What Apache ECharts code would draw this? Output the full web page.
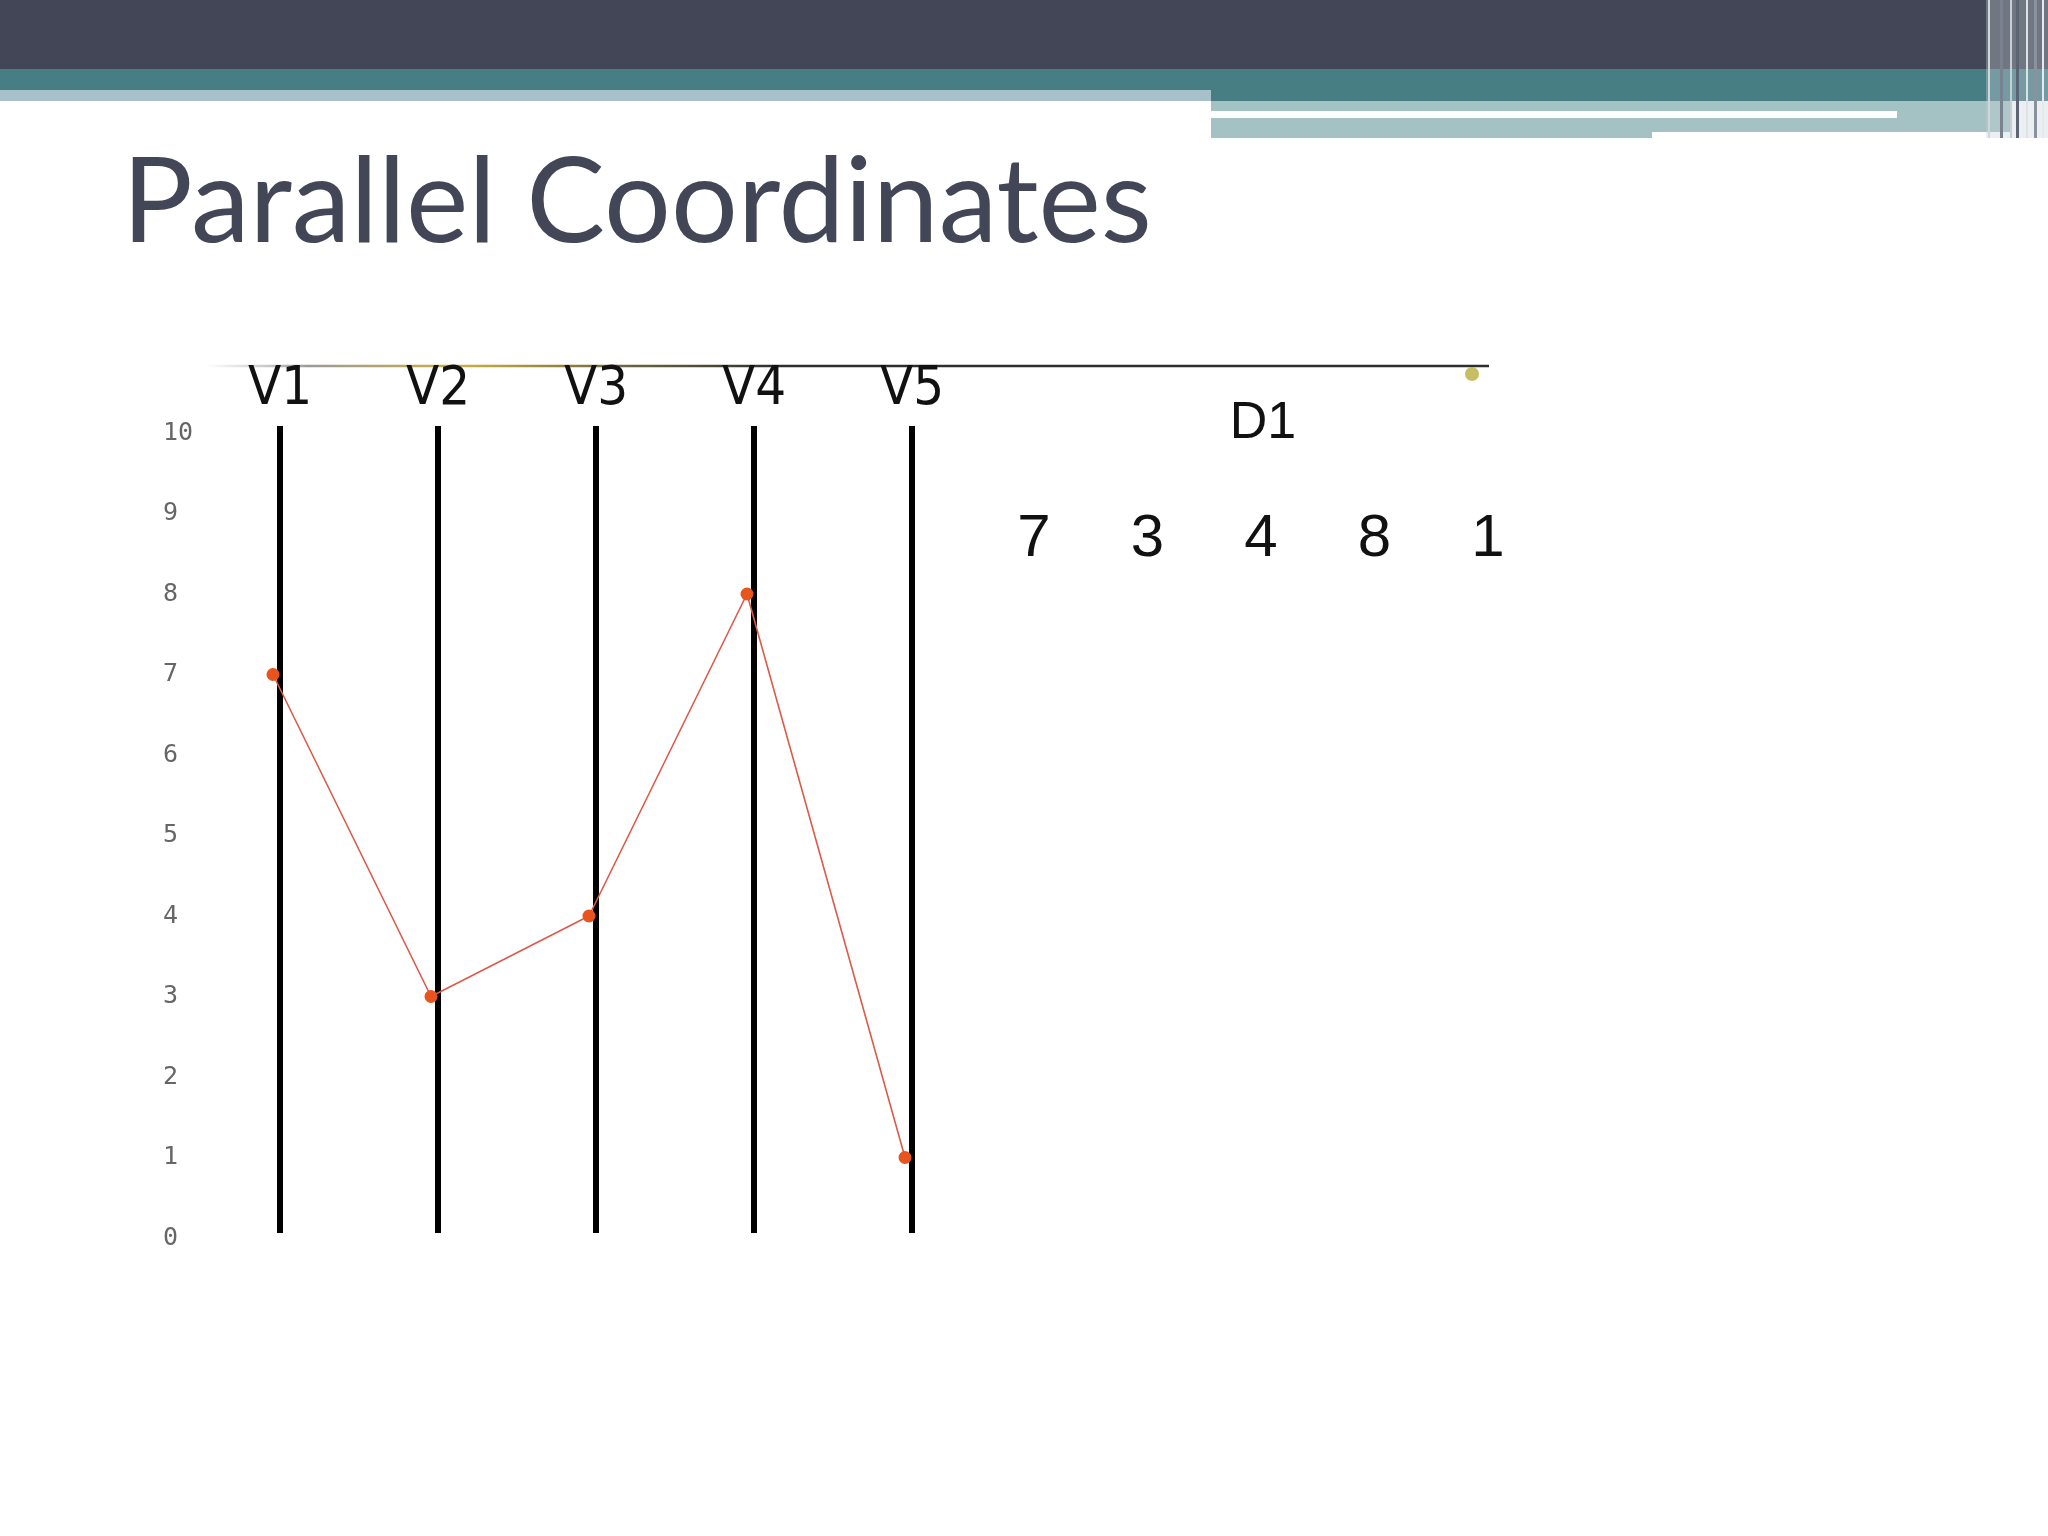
<!DOCTYPE html>
<html><head><meta charset="utf-8">
<script src="https://cdn.jsdelivr.net/npm/echarts@6/dist/echarts.min.js"></script>
<style>html,body{margin:0;padding:0;background:#fff}#c{width:2048px;height:1536px}</style>
</head><body><div id="c"></div>
<script>
// ---- data ----
const titleText = 'Parallel Coordinates';
const dimensions = ['V1', 'V2', 'V3', 'V4', 'V5'];
const recordName = 'D1';
const d1Values = [7, 3, 4, 8, 1];
const yMin = 0, yMax = 10, yStep = 1;

const chart = echarts.init(document.getElementById('c'), null, {renderer: 'canvas'});

// header decoration
const header = [
  {type: 'rect', shape: {x: 0, y: 0, width: 2048, height: 69}, style: {fill: '#434656'}},
  {type: 'rect', shape: {x: 0, y: 69, width: 1211, height: 21}, style: {fill: '#467e84'}},
  {type: 'rect', shape: {x: 0, y: 90, width: 1211, height: 11}, style: {fill: '#a7c1ca'}},
  {type: 'rect', shape: {x: 1211, y: 69, width: 837, height: 32}, style: {fill: '#467e84'}},
  {type: 'rect', shape: {x: 1211, y: 101, width: 800, height: 37}, style: {fill: '#a4c2c3'}},
  {type: 'rect', shape: {x: 1211, y: 111, width: 686, height: 7}, style: {fill: '#ffffff'}},
  {type: 'rect', shape: {x: 1652, y: 132, width: 358, height: 7}, style: {fill: '#ffffff'}},
  {type: 'rect', shape: {x: 1986, y: 0, width: 62, height: 138}, style: {fill: 'rgba(200,208,216,0.35)'}},
  {type: 'rect', shape: {x: 1988, y: 0, width: 2, height: 138}, style: {fill: '#d0d6dc'}},
  {type: 'rect', shape: {x: 2000, y: 0, width: 3, height: 138}, style: {fill: '#7a8290'}},
  {type: 'rect', shape: {x: 2010, y: 0, width: 2, height: 138}, style: {fill: '#c8ced6'}},
  {type: 'rect', shape: {x: 2016, y: 0, width: 3, height: 138}, style: {fill: '#5c6474'}},
  {type: 'rect', shape: {x: 2026, y: 0, width: 2, height: 138}, style: {fill: '#dde2e6'}},
  {type: 'rect', shape: {x: 2034, y: 0, width: 3, height: 138}, style: {fill: '#8a92a0'}},
  {type: 'rect', shape: {x: 2042, y: 0, width: 2, height: 138}, style: {fill: '#e6eaee'}}
];

const topLine = {
  type: 'line', shape: {x1: 205, y1: 366, x2: 1489, y2: 366},
  style: {
    lineWidth: 2.5,
    stroke: new echarts.graphic.LinearGradient(205, 0, 1489, 0, [
      {offset: 0, color: 'rgba(180,180,180,0)'},
      {offset: 0.08, color: '#9a9a9a'},
      {offset: 0.2, color: '#c9b040'},
      {offset: 0.33, color: '#6a6440'},
      {offset: 0.45, color: '#2e2e2e'},
      {offset: 1, color: '#2e2e2e'}
    ], true)
  }
};

const tableTexts = [
  {type: 'text', x: 1263, y: 424, style: {text: recordName, font: '52px "Liberation Sans", Arial, sans-serif', fill: '#111', align: 'center', verticalAlign: 'middle'}}
].concat(d1Values.map((v, i) => ({
  type: 'text', x: 1034 + i * 113.5, y: 539,
  style: {text: String(v), font: '60px "Liberation Sans", Arial, sans-serif', fill: '#111', align: 'center', verticalAlign: 'middle'}
})));

const titleEl = {
  type: 'text', x: 122, y: 204,
  style: {text: titleText, font: '118px Lato, "Open Sans", sans-serif', fill: '#424656', align: 'left', verticalAlign: 'middle'}
};

const option = {
  backgroundColor: '#ffffff',
  animation: false,
  graphic: header.concat([topLine, titleEl,
    {type: 'circle', shape: {cx: 1472, cy: 374, r: 7}, style: {fill: '#b9ad3c', opacity: 0.8}}
  ]).concat(tableTexts),
  grid: [
    {left: 280, width: 632, top: 426, height: 807},
    {left: 273, width: 632, top: 433, height: 805}
  ],
  xAxis: [
    {
      type: 'category', gridIndex: 0, data: dimensions, boundaryGap: false, position: 'top',
      axisLine: {show: false}, axisTick: {show: false},
      axisLabel: {interval: 0, margin: 36, verticalAlign: 'middle',
        fontFamily: '"DejaVu Sans Condensed", "Liberation Sans Narrow", sans-serif', fontSize: 54, color: '#111'},
      splitLine: {show: true, interval: 0, lineStyle: {color: '#000', width: 6}}
    },
    {
      type: 'category', gridIndex: 1, data: dimensions, boundaryGap: false,
      axisLine: {show: false}, axisTick: {show: false}, axisLabel: {show: false}, splitLine: {show: false}
    }
  ],
  yAxis: [
    {type: 'value', gridIndex: 0, min: yMin, max: yMax, show: false},
    {
      type: 'value', gridIndex: 1, min: yMin, max: yMax, interval: yStep,
      axisLine: {show: false}, axisTick: {show: false}, splitLine: {show: false},
      axisLabel: {margin: 110, align: 'left', fontFamily: '"DejaVu Sans Mono", monospace', fontSize: 25, color: '#666'}
    }
  ],
  series: [{
    name: recordName, type: 'line', xAxisIndex: 1, yAxisIndex: 1,
    data: d1Values,
    symbol: 'circle', symbolSize: 13,
    lineStyle: {color: '#dc5a4a', width: 1.6},
    itemStyle: {color: '#e8541e'}
  }]
};
chart.setOption(option);
</script>
</body></html>
